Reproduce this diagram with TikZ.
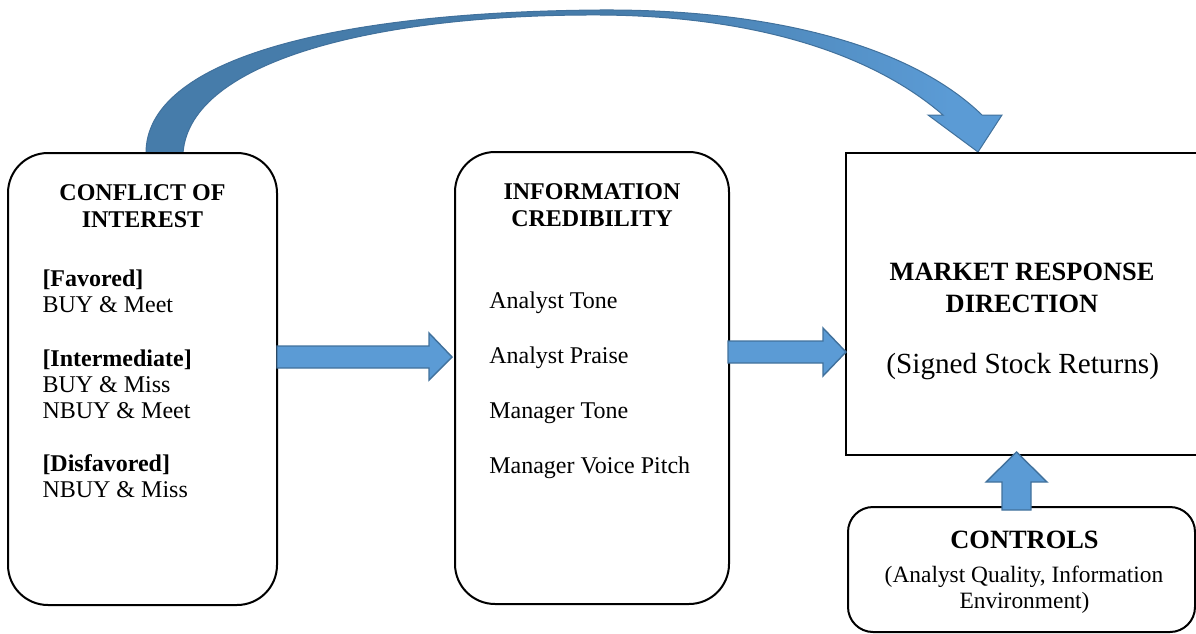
\documentclass[tikz,border=0pt]{standalone}
\usepackage{fontspec}
\setmainfont{Liberation Serif}
\usetikzlibrary{calc}
\definecolor{afill}{HTML}{5B9BD5}
\definecolor{aline}{HTML}{41719C}
\definecolor{adark}{HTML}{467CAA}
\pgfdeclarehorizontalshading{curvesh}{100bp}{color(0bp)=(adark); color(52bp)=(adark); color(72bp)=(afill); color(100bp)=(afill)}
\begin{document}
\begin{tikzpicture}[x=1pt,y=-1pt,
  box/.style={draw=black, line width=2pt, inner sep=0pt, outer sep=0pt},
  blockarrow/.style={fill=afill, draw=aline, line width=1.4pt, line join=miter},
  txt/.style={inner sep=0pt, outer sep=0pt, font=\fontsize{24}{26}\selectfont},
  btxt/.style={inner sep=0pt, outer sep=0pt, font=\fontsize{24}{26}\selectfont\bfseries},
  bigb/.style={inner sep=0pt, outer sep=0pt, font=\fontsize{26.4}{30}\selectfont\bfseries},
  bigt/.style={inner sep=0pt, outer sep=0pt, font=\fontsize{29.2}{33}\selectfont},
  ctltxt/.style={inner sep=0pt, outer sep=0pt, font=\fontsize{23.4}{26}\selectfont},
]
\useasboundingbox (0,0) rectangle (1196,634);

% curved arrow (drawn first, boxes on top)
\coordinate (cA) at (146,153);
\coordinate (cB) at (183,153);
\coordinate (cT) at (978,152);
\path[shading=curvesh, draw=aline, line width=1pt, line join=miter]
  (cA) .. controls (146,60) and (330,12) .. (600,10)
  .. controls (770,9) and (910,45) .. (982,115)
  -- (1002,115) -- (cT) -- (928,115) -- (943,115)
  .. controls (875,56) and (760,16) .. (600,15)
  .. controls (380,14) and (190,60) .. (cB) -- cycle;

% boxes
\node[box, rounded corners=40pt, minimum width=269pt, minimum height=452pt] (coi) at (142.5,379) {};
\node[box, rounded corners=40pt, minimum width=274pt, minimum height=452pt] (ic) at (592,378) {};
\node[box, minimum width=360pt, minimum height=302pt] (mr) at (1026,304) {};
\node[box, rounded corners=25pt, minimum width=347pt, minimum height=125pt] (ctl) at (1021.5,569.5) {};

% left box text
\node[btxt, anchor=base] (coi1) at (142.5,200) {CONFLICT OF};
\node[btxt, anchor=base] (coi2) at (142.5,227) {INTEREST};
\node[btxt, anchor=base west] (f1) at (42.5,286) {[Favored]};
\node[txt, anchor=base west] (f2) at (42.5,312) {BUY \& Meet};
\node[btxt, anchor=base west] (i1) at (42.5,366) {[Intermediate]};
\node[txt, anchor=base west] (i2) at (42.5,392) {BUY \& Miss};
\node[txt, anchor=base west] (i3) at (42.5,418) {NBUY \& Meet};
\node[btxt, anchor=base west] (d1) at (42.5,471) {[Disfavored]};
\node[txt, anchor=base west] (d2) at (42.5,497) {NBUY \& Miss};

% middle box text
\node[btxt, anchor=base] (ic1) at (592,199.5) {INFORMATION};
\node[btxt, anchor=base] (ic2) at (592,226.5) {CREDIBILITY};
\node[txt, anchor=base west] (m1) at (489.3,308) {Analyst Tone};
\node[txt, anchor=base west] (m2) at (489.3,363) {Analyst Praise};
\node[txt, anchor=base west] (m3) at (489.3,418.5) {Manager Tone};
\node[txt, anchor=base west] (m4) at (489.3,473.5) {Manager Voice Pitch};

% right box text
\node[bigb, anchor=base] (mr1) at (1022,280) {MARKET RESPONSE};
\node[bigb, anchor=base] (mr2) at (1022,312) {DIRECTION};
\node[bigt, anchor=base] (mr3) at (1022.7,373) {(Signed Stock Returns)};

% controls text
\node[bigb, anchor=base] (c1) at (1024.5,548) {CONTROLS};
\node[ctltxt, anchor=base] (c2) at (1024,582) {(Analyst Quality, Information};
\node[ctltxt, anchor=base] (c3) at (1024.5,608) {Environment)};

% block arrows
\coordinate (a1s) at ($(coi.east |- 0,357)$);
\coordinate (a1e) at ($(ic.west |- 0,357)+(-3,0)$);
\draw[blockarrow] ($(a1s)+(0,-11)$) -- ($(a1e)+(-23,-11)$) -- ($(a1e)+(-23,-24)$) -- (a1e)
  -- ($(a1e)+(-23,23)$) -- ($(a1e)+(-23,11)$) -- ($(a1s)+(0,11)$) -- cycle;

\coordinate (a2s) at ($(ic.east |- 0,352)+(-1,0)$);
\coordinate (a2e) at ($(mr.west |- 0,352)$);
\draw[blockarrow] ($(a2s)+(0,-11)$) -- ($(a2e)+(-23,-11)$) -- ($(a2e)+(-23,-24)$) -- (a2e)
  -- ($(a2e)+(-23,24)$) -- ($(a2e)+(-23,11)$) -- ($(a2s)+(0,11)$) -- cycle;

\coordinate (a3s) at (1016.5,510);
\coordinate (a3e) at ($(mr.south -| 1016.5,0)+(0,-3)$);
\draw[blockarrow] ($(a3s)+(-14.5,0)$) -- ($(a3e)+(-14.5,30)$) -- ($(a3e)+(-30.5,30)$) -- (a3e)
  -- ($(a3e)+(30.5,30)$) -- ($(a3e)+(14.5,30)$) -- ($(a3s)+(14.5,0)$) -- cycle;
\end{tikzpicture}
\end{document}
